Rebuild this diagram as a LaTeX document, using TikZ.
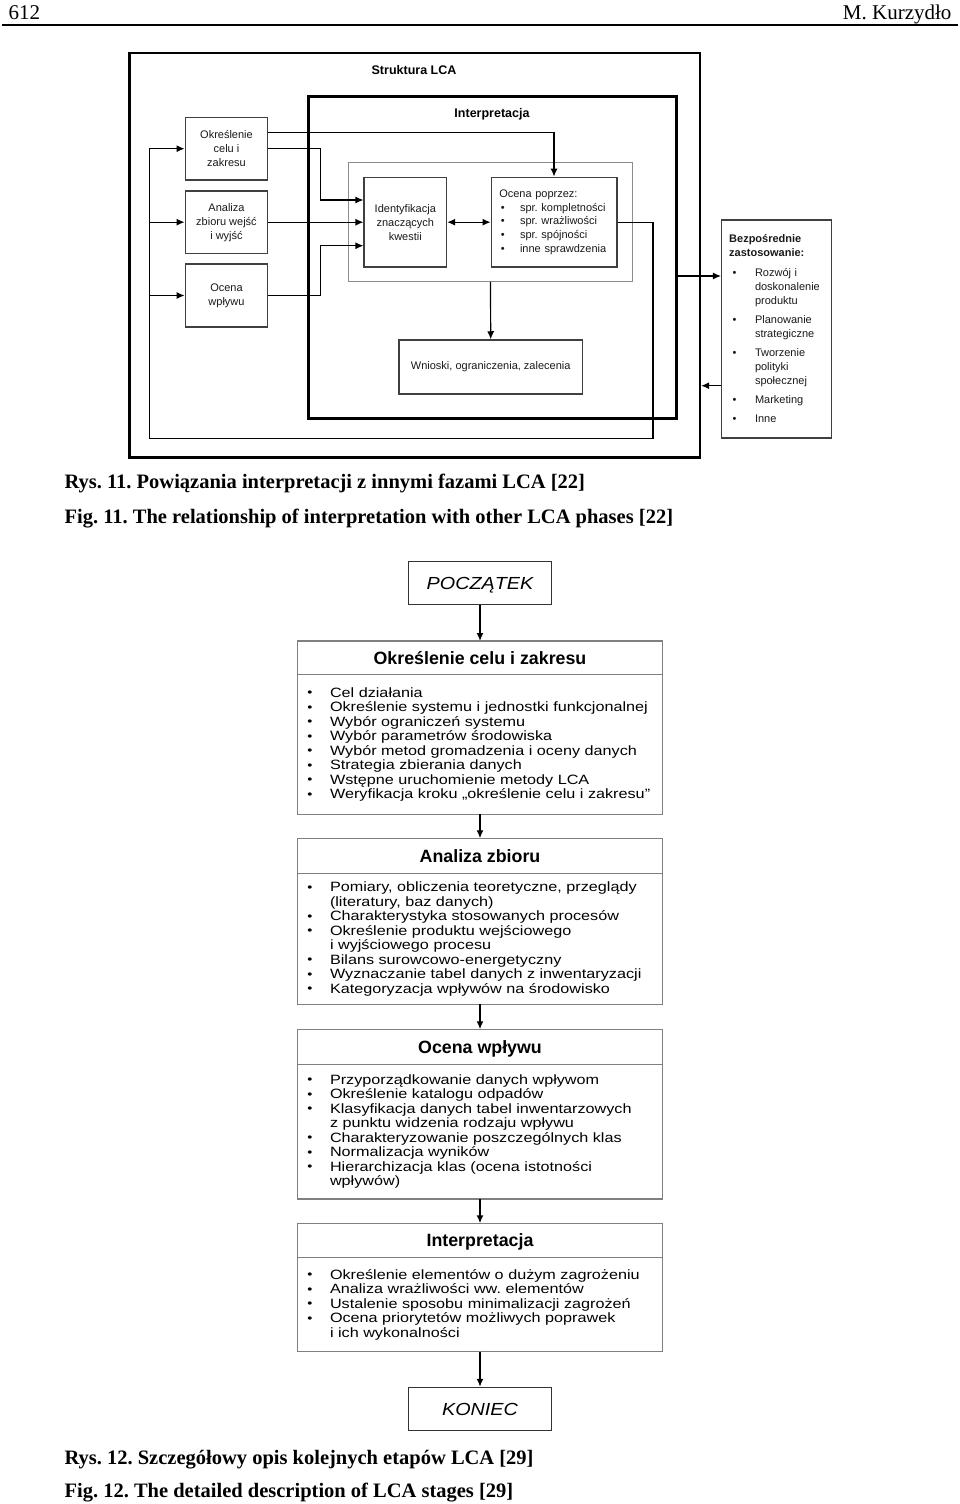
\documentclass[tikz,border=0pt]{standalone}
\usepackage{fontspec}
\setmainfont{Liberation Serif}
\newfontfamily\lcasans{Liberation Sans}
\newfontfamily\stagesans[FakeStretch=1.2]{Liberation Sans}
\newfontfamily\endsans[FakeStretch=1.13]{Liberation Sans}
\usetikzlibrary{arrows.meta, positioning, graphs}
\frenchspacing
\newcommand{\chkdot}{\makebox[20.8pt][l]{\hspace{1.5pt}\textbullet}}
\newcommand{\usedot}{\makebox[25.8pt][l]{\hspace{3.5pt}\textbullet}}
\newcommand{\usegap}{\hspace*{25.8pt}}
\newcommand{\stageitem}[1]{\mbox{\makebox[22.7pt][l]{\raisebox{0.5pt}{\fontsize{12}{12}\selectfont\textbullet}}#1}}
\newcommand{\stagecont}[1]{\mbox{\hspace*{22.7pt}#1}}
\tikzset{
>={Latex[length=8pt,width=7pt]},
frame/.style={rectangle, draw=black, line width=2.6pt},
inner frame/.style={rectangle, draw=black!45, line width=1pt},
box/.style={%
    rectangle,
    draw=black!75,
    line width=1.5pt,
    text=black!90,
    align=center,
    font=\lcasans\fontsize{11}{14}\selectfont
},
heading/.style={font=\lcasans\bfseries\fontsize{12.5}{15}\selectfont},
link/.style={line width=1.2pt},
hvstep/.style={to path={-- ++(#1,0) |- (\tikztotarget)}},
terminal/.style={%
    rectangle, draw=black!80, line width=1.4pt,
    minimum width=143.4pt, minimum height=43pt,
    text height=12.7pt, text depth=0pt,
    font=\endsans\itshape\fontsize{17.5}{20}\selectfont
},
stage head/.style={%
    rectangle, draw=black!50, line width=1.3pt, outer sep=0pt,
    minimum width=365.4pt, text height=12.9pt, text depth=0pt,
    font=\lcasans\bfseries\fontsize{17.8}{20}\selectfont
},
stage body/.style={%
    rectangle, draw=black!50, line width=1.3pt, outer sep=0pt,
    inner xsep=10pt, text width=345.4pt, align=left,
    font=\stagesans\fontsize{13.5}{14.5}\selectfont
},
caption/.style={anchor=base west, font=\bfseries\fontsize{20.5}{24}\selectfont},
pagehead/.style={font=\fontsize{21}{25}\selectfont},
}

\begin{document}
\begin{tikzpicture}[x=1pt, y=-1pt]
	\useasboundingbox (0,0) rectangle (960,1504);
	% page head
	\node[pagehead, anchor=base west] (pageno) at (5,19.3) {612};
	\node[pagehead, anchor=base east] (author) at (955,19.3) {M. Kurzydło};
	\coordinate (ruleL) at (2,25);
	\coordinate (ruleR) at (958,25);
	\draw[line width=1.2pt] (ruleL) -- (ruleR);

	% fig. 11
	\node[frame, minimum width=570.2pt, minimum height=404.7pt] (struct) at (414.7,255.3) {};
	\node[heading] (structT) at (414,70) {Struktura LCA};
	\node[frame, minimum width=368.5pt, minimum height=321.6pt] (interp) at (492.5,257.5) {};
	\node[heading] (interpT) at (492,114) {Interpretacja};
	\node[inner frame, minimum width=283.1pt, minimum height=118.6pt] (core) at (490.5,222) {};
	\node[box, minimum width=82.2pt, minimum height=89.7pt] (ident) at (405.3,222.2) {Identyfikacja\\znaczących\\kwestii};
	\node[box, minimum height=89.7pt, inner xsep=8pt, text width=109.5pt, align=left, font=\lcasans\fontsize{11}{13.7}\selectfont] (check) at (554,222.2)
		{Ocena poprzez:\\\chkdot spr.~kompletności\\\chkdot spr.~wrażliwości\\\chkdot spr.~spójności\\\chkdot inne~sprawdzenia};
	\node[box, minimum width=183.3pt, minimum height=54pt] (concl) at (490.7,367) {Wnioski, ograniczenia, zalecenia};
	\node[box, minimum width=82.3pt, minimum height=62.7pt] (goal) at (226.5,148.7) {Określenie\\celu i\\zakresu};
	\node[box, minimum width=82.3pt, minimum height=62.7pt] (inv) at (226.5,222.2) {Analiza\\zbioru wejść\\i wyjść};
	\node[box, minimum width=82.3pt, minimum height=62.7pt] (impact) at (226.5,295.5) {Ocena\\wpływu};
	\node[box, minimum height=217.7pt, inner xsep=7.5pt, text width=95pt, align=left, font=\lcasans\fontsize{11}{14.1}\selectfont] (use) at (776.7,328.9)
		{\textbf{Bezpośrednie}\\\textbf{zastosowanie:}\\[5pt]
		\usedot Rozwój~i\\\usegap doskonalenie\\\usegap produktu\\[5pt]
		\usedot Planowanie\\\usegap strategiczne\\[5pt]
		\usedot Tworzenie\\\usegap polityki\\\usegap społecznej\\[5pt]
		\usedot Marketing\\[5pt]
		\usedot Inne};
	\coordinate (fbR) at (653,438.3);
	\coordinate (fbL) at (149.5,438.3);
	\coordinate (out) at ([yshift=-18.5pt]interp.east);
	\coordinate (back) at ([yshift=-56.8pt]use.west);

	\draw[link, ->] ([yshift=16pt]goal.east) -| (check.north);
	\draw[link, ->] (goal.east) to[hvstep=51.7] ([yshift=22.2pt]ident.west);
	\draw[link, ->] (inv.east) -- (ident.west);
	\draw[link, ->] (impact.east) to[hvstep=51.7] ([yshift=-23.5pt]ident.west);
	\draw[link, <->] (ident.east) -- (check.west);
	\draw[link, ->] (core.south) -- (concl.north);
	\draw[link, ->] (check.east) -| (fbR) -- (fbL) |- (goal.west);
	\draw[link, ->] (fbL |- inv.west) -- (inv.west);
	\draw[link, ->] (fbL |- impact.west) -- (impact.west);
	\draw[link, ->] (out) -- (out -| use.west);
	\draw[link, ->] (back) -- (back -| struct.east);

	\node[caption] (cap11) at (61,488) {Rys. 11. Powiązania interpretacji z innymi fazami LCA [22]};
	\node[caption] (fig11) at (61,523) {Fig. 11. The relationship of interpretation with other LCA phases [22]};

	% fig. 12
	\node[terminal] (poczatek) at (480,582.7) {POCZĄTEK};
	\node[stage head, minimum height=33.3pt] (goalH) at (480,657.7) {Określenie celu i zakresu};
	\node[stage body, minimum height=140pt, below=0pt of goalH] (goalB)
		{\stageitem{Cel działania}\\
		\stageitem{Określenie systemu i jednostki funkcjonalnej}\\
		\stageitem{Wybór ograniczeń systemu}\\
		\stageitem{Wybór parametrów środowiska}\\
		\stageitem{Wybór metod gromadzenia i oceny danych}\\
		\stageitem{Strategia zbierania danych}\\
		\stageitem{Wstępne uruchomienie metody LCA}\\
		\stageitem{Weryfikacja kroku „określenie celu i zakresu”}};
	\node[stage head, minimum height=35pt] (invH) at (480,855.8) {Analiza zbioru};
	\node[stage body, minimum height=131pt, below=0pt of invH] (invB)
		{\stageitem{Pomiary, obliczenia teoretyczne, przeglądy}\\
		\stagecont{(literatury, baz danych)}\\
		\stageitem{Charakterystyka stosowanych procesów}\\
		\stageitem{Określenie produktu wejściowego}\\
		\stagecont{i wyjściowego procesu}\\
		\stageitem{Bilans surowcowo-energetyczny}\\
		\stageitem{Wyznaczanie tabel danych z inwentaryzacji}\\
		\stageitem{Kategoryzacja wpływów na środowisko}};
	\node[stage head, minimum height=35pt] (impactH) at (480,1046.8) {Ocena wpływu};
	\node[stage body, minimum height=134.7pt, below=0pt of impactH] (impactB)
		{\stageitem{Przyporządkowanie danych wpływom}\\
		\stageitem{Określenie katalogu odpadów}\\
		\stageitem{Klasyfikacja danych tabel inwentarzowych}\\
		\stagecont{z punktu widzenia rodzaju wpływu}\\
		\stageitem{Charakteryzowanie poszczególnych klas}\\
		\stageitem{Normalizacja wyników}\\
		\stageitem{Hierarchizacja klas (ocena istotności}\\
		\stagecont{wpływów)}};
	\node[stage head, minimum height=34.4pt] (interpH) at (480,1240.5) {Interpretacja};
	\node[stage body, minimum height=94pt, below=0pt of interpH] (interpB)
		{\stageitem{Określenie elementów o dużym zagrożeniu}\\
		\stageitem{Analiza wrażliwości ww. elementów}\\
		\stageitem{Ustalenie sposobu minimalizacji zagrożeń}\\
		\stageitem{Ocena priorytetów możliwych poprawek}\\
		\stagecont{i ich wykonalności}};
	\node[terminal] (koniec) at (480,1409) {KONIEC};

\graph [use existing nodes, edges={line width=1.5pt}] {
poczatek -> goalH;
goalB -> invH;
invB -> impactH;
impactB -> interpH;
interpB -> koniec;
};

	\node[caption] (cap12) at (61,1464) {Rys. 12. Szczegółowy opis kolejnych etapów LCA [29]};
	\node[caption] (fig12) at (61,1497) {Fig. 12. The detailed description of LCA stages [29]};
\end{tikzpicture}
\end{document}
